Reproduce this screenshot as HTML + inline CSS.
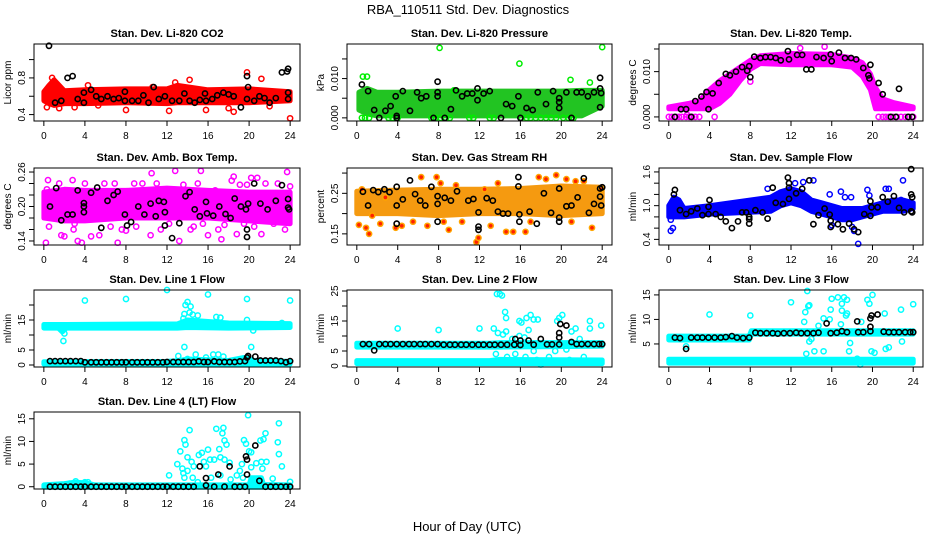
<!DOCTYPE html>
<html><head><meta charset="utf-8">
<style>
html,body{margin:0;padding:0;background:#fff;}
svg{display:block;font-family:"Liberation Sans",Arial,sans-serif;}
</style></head>
<body>
<svg id="chart" width="936" height="540" viewBox="0 0 936 540" xmlns="http://www.w3.org/2000/svg">
<rect x="0" y="0" width="936" height="540" fill="#fff"/>
<text x="468" y="14" font-size="13" text-anchor="middle">RBA_110511  Std. Dev. Diagnostics</text>
<text x="467" y="531" font-size="13" text-anchor="middle">Hour of Day (UTC)</text>
<g id="panels"></g>
</svg>
<script>
// ---------- shared axis data ----------
var xTicks = [0,4,8,12,16,20,24];

// ---------- P1 CO2 ----------
var co2BandHours = [0,0.5,1,2,4,8,12,13,16,20,24];
var co2BandLo = [0.55,0.52,0.5,0.52,0.52,0.53,0.52,0.53,0.53,0.53,0.55];
var co2BandHi = [0.65,0.72,0.78,0.66,0.67,0.68,0.68,0.72,0.67,0.68,0.65];
var co2Points = [[0.3,0.48],[0.8,0.8],[1.5,0.47],[3,0.48],[4.3,0.72],[5.3,0.5],[8,0.45],[12.2,0.44],[12.8,0.75],[14.2,0.78],[15.8,0.45],[18,0.47],[18.5,0.43],[19.8,0.86],[21.2,0.79],[22,0.49],[24,0.36],[10.6,0.7]];
var co2Black = [[0.5,1.15],[1.1,0.53],[1.7,0.55],[2.3,0.8],[2.8,0.82],[3.3,0.57],[3.9,0.64],[3.9,0.53],[4.6,0.67],[5.1,0.6],[5.6,0.57],[6.2,0.6],[6.8,0.57],[7.3,0.58],[7.9,0.65],[7.9,0.55],[8.6,0.55],[9.2,0.55],[9.7,0.61],[10.2,0.53],[10.7,0.7],[11.2,0.57],[11.8,0.6],[12.5,0.55],[13.2,0.55],[13.7,0.63],[14.2,0.55],[14.7,0.53],[15.2,0.56],[15.7,0.63],[15.8,0.55],[16.4,0.57],[16.9,0.61],[17.5,0.64],[18,0.62],[18.5,0.6],[19.2,0.48],[19.8,0.82],[19.9,0.7],[19.8,0.57],[20.5,0.55],[21,0.6],[21.5,0.58],[22,0.53],[22.6,0.58],[23.2,0.86],[23.7,0.87],[23.8,0.9],[23.8,0.64],[23.8,0.57]];

// ---------- P2 Pressure ----------
var presBandHours = [0.2,1,2,4,8,12,16,20,22,24];
var presBandLo = [0.002,0.001,0.0005,0.0005,0.0005,0.0005,0.0005,0.0005,0.0005,0.003];
var presBandHi = [0.0065,0.0075,0.0065,0.0065,0.0068,0.0068,0.0068,0.0068,0.007,0.007];
var presPoints = [[8.1,0.0178],[15.9,0.0138],[24,0.018],[0.6,0.0105],[1,0.0105],[20.9,0.0097],[22.8,0.009],[9.5,0.007],[0.5,0],[0.8,0],[1.2,0],[3.1,0],[3.5,0],[4,0],[7.3,0],[7.7,0],[8.2,0],[8.7,0],[9.1,0],[11,0],[11.4,0],[13,0],[13.4,0],[16.1,0],[16.6,0],[17,0],[17.5,0],[18,0],[18.5,0],[19,0],[19.5,0],[20.2,0],[20.7,0],[21.2,0]];
var presBlack = [[0.5,0.0085],[1.1,0.0068],[1.7,0.002],[2.2,0],[2.8,0.0018],[3.3,0.003],[3.8,0.0055],[3.9,0.0005],[3.9,0],[4.5,0.0068],[5.2,0.0018],[5.9,0.0065],[6.3,0.005],[6.8,0.0055],[7.5,0],[7.9,0.0092],[7.9,0.0065],[7.9,0.0055],[8.6,0],[9.2,0.0022],[9.7,0.007],[10.3,0.0055],[10.8,0.0062],[11.3,0.0062],[11.8,0.0075],[11.8,0.0045],[12.4,0.0062],[13,0.0068],[14.1,0],[14.6,0.0035],[15.2,0.003],[15.8,0.0055],[16,0],[16.6,0.0025],[17.2,0.002],[17.7,0.0065],[18.5,0.0035],[19.2,0.0068],[19.8,0.005],[19.8,0.004],[19.8,0.0025],[20.5,0.0065],[21,0],[21.5,0.0065],[22,0.0065],[22.6,0.0055],[23.2,0.0065],[23.8,0.0102],[23.8,0.0075],[23.9,0.0063],[23.8,0.0027]];

// ---------- P3 Li-820 Temp ----------
var tempBandHours = [0,2,3,4,5,6,7,8,9,12,16,18,19,19.8,20.3,21,22,24];
var tempBandLo = [0.0018,0.0018,0.0018,0.0018,0.003,0.005,0.008,0.0105,0.0118,0.0115,0.0115,0.011,0.009,0.006,0.0018,0.0018,0.0018,0.0018];
var tempBandHi = [0.0022,0.003,0.0035,0.006,0.008,0.0095,0.011,0.0125,0.0135,0.014,0.0138,0.013,0.012,0.0095,0.0065,0.004,0.0032,0.0022];
var tempPoints = [[0,0],[0.3,0],[0.7,0],[1,0],[1.3,0],[1.7,0],[2,0],[2.3,0],[2.6,0],[3,0],[4.5,0],[20.6,0],[21,0],[21.3,0],[21.6,0],[22,0],[22.4,0],[22.8,0],[23.2,0],[23.6,0],[24,0],[1.8,0.0005],[15.3,0.0155],[12.9,0.0152],[8,0.0078],[19.9,0.0065]];
var tempBlack = [[0.6,0],[2.2,0],[1.2,0.0017],[1.7,0.0017],[2.6,0.0035],[3.2,0.0045],[3.7,0.0055],[3.9,0.0017],[4.3,0.0052],[4.9,0.0075],[5.6,0.0095],[6,0.0092],[6.6,0.01],[7.2,0.011],[7.7,0.0102],[7.9,0.0112],[8,0.0088],[8.4,0.0133],[9,0.013],[9.5,0.0132],[10,0.0132],[10.5,0.013],[11,0.0125],[11.7,0.0145],[11.8,0.0127],[12.6,0.0137],[13.1,0.0137],[13.5,0.0105],[14,0.0105],[14.5,0.0132],[15.2,0.013],[15.9,0.0138],[16,0.0123],[16.7,0.0142],[17.3,0.013],[17.9,0.013],[18.4,0.0127],[19.1,0.0108],[19.6,0.0092],[19.7,0.0085],[19.8,0.0115],[20.6,0.0075],[21,0.005],[21.8,0],[22.3,0],[22.6,0.0062],[23.5,0],[23.9,0]];

// ---------- P4 Amb Box Temp ----------
var boxBandHours = [0,2,4,8,12,16,20,24];
var boxBandLo = [0.18,0.175,0.175,0.18,0.18,0.18,0.175,0.17];
var boxBandHi = [0.225,0.23,0.228,0.228,0.232,0.228,0.225,0.225];
var boxPoints = [[0.2,0.137],[0.4,0.246],[0.5,0.165],[1.7,0.15],[2,0.148],[2.8,0.246],[2.9,0.16],[3.3,0.14],[3.7,0.137],[4,0.24],[4.6,0.148],[5.4,0.15],[6.9,0.24],[7.2,0.137],[7.6,0.16],[8,0.158],[9.6,0.24],[10.4,0.15],[10.5,0.258],[11.4,0.16],[12.8,0.262],[13.2,0.14],[14.3,0.16],[15.3,0.262],[15.5,0.17],[16,0.15],[16.7,0.228],[17.3,0.143],[17.6,0.168],[18.3,0.245],[18.5,0.252],[18.8,0.152],[19.1,0.238],[19.8,0.238],[20.2,0.25],[20.8,0.25],[21.2,0.152],[21.6,0.24],[22.4,0.17],[23.5,0.16],[23.7,0.26],[24,0.235],[12.2,0.17],[5.9,0.24],[0.3,0.23],[1.5,0.24],[6.5,0.165],[9,0.165],[11,0.24],[13.6,0.238],[15,0.24],[17,0.16],[20.5,0.165],[22.8,0.24],[3,0.17],[8.8,0.24],[14.6,0.165],[19.5,0.17]];
var boxBlack = [[0.6,0.2],[1.2,0.232],[1.7,0.176],[2.3,0.186],[2.8,0.186],[3.3,0.228],[3.9,0.2],[3.9,0.206],[3.9,0.19],[4.6,0.224],[5.2,0.233],[5.6,0.163],[6.2,0.21],[6.8,0.22],[7.2,0.226],[7.9,0.186],[8.1,0.167],[8.5,0.173],[9.2,0.2],[9.8,0.186],[10.4,0.205],[10.9,0.183],[11.2,0.21],[11.7,0.208],[11.8,0.19],[11.8,0.167],[12.5,0.145],[13.2,0.171],[13.8,0.218],[14.2,0.225],[14.7,0.195],[15.2,0.183],[15.8,0.208],[15.9,0.188],[16.5,0.184],[17.1,0.2],[17.7,0.187],[18.2,0.18],[18.6,0.214],[19.2,0.2],[19.7,0.195],[19.8,0.16],[19.8,0.147],[19.9,0.205],[20.5,0.24],[21.1,0.205],[21.8,0.195],[22.6,0.21],[23.2,0.237],[23.8,0.213],[23.8,0.198],[23.9,0.195]];

// ---------- P5 Gas Stream RH ----------
var rhBandHours = [0,4,8,12,16,20,24];
var rhBandLo = [0.2,0.2,0.195,0.2,0.2,0.195,0.2];
var rhBandHi = [0.255,0.258,0.26,0.26,0.262,0.268,0.265];
var rhPoints = [[0.2,0.172],[0.5,0.26],[0.9,0.165],[1.2,0.15],[1.5,0.195],[2.3,0.175],[3.8,0.165],[4.4,0.17],[6.3,0.29],[6.9,0.17],[7.8,0.29],[8.5,0.18],[9,0.16],[9.7,0.27],[11.7,0.13],[11.9,0.14],[13.1,0.17],[14.6,0.155],[15.3,0.155],[16.5,0.155],[17.8,0.29],[18.5,0.285],[19.5,0.295],[20.5,0.285],[21.4,0.28],[22.2,0.28],[23,0.165],[23.9,0.26],[12.5,0.26],[2.8,0.24],[5.5,0.18],[10.3,0.18],[17,0.18],[21,0.18],[8.2,0.275],[13.8,0.275]];
var rhBlack = [[0.6,0.254],[1.1,0.22],[1.6,0.258],[2.1,0.253],[2.7,0.26],[3.2,0.253],[3.9,0.266],[3.9,0.22],[3.9,0.175],[4.5,0.235],[5.2,0.282],[5.7,0.248],[6.2,0.232],[6.7,0.22],[7.3,0.266],[7.9,0.18],[7.9,0.243],[7.9,0.224],[8.6,0.239],[9.2,0.232],[9.8,0.255],[10.9,0.232],[11.4,0.236],[11.9,0.203],[11.9,0.168],[11.9,0.16],[12.7,0.238],[13.3,0.232],[13.8,0.205],[14.3,0.2],[14.8,0.2],[15.8,0.29],[15.9,0.198],[15.8,0.267],[15.9,0.18],[16.9,0.205],[17.6,0.175],[18.3,0.25],[19,0.202],[19.8,0.262],[19.8,0.19],[19.8,0.18],[20.5,0.218],[21,0.22],[21.6,0.24],[22.2,0.287],[22.7,0.202],[23.2,0.224],[23.8,0.262],[23.8,0.242],[23.9,0.22],[24,0.265]];

// ---------- P6 Sample Flow ----------
var sfBandHours = [0,0.5,1,1.5,4,10,11,12,13,14,15,16,17,18,19,20,21,22,23,24];
var sfBandLo = [0.8,0.8,0.8,0.8,0.85,0.9,1.0,1.05,1.0,0.9,0.85,0.8,0.75,0.75,0.8,0.85,0.9,0.9,0.9,0.95];
var sfBandHi = [1.0,1.15,1.1,0.95,1.0,1.15,1.25,1.3,1.25,1.1,1.05,1.0,0.95,0.95,0.95,1.0,1.05,1.1,1.1,1.05];
var sfPoints = [[0.1,1.0],[0.2,0.75],[0.2,0.55],[0.4,0.6],[9.7,1.3],[12.4,1.4],[13.2,1.42],[14.2,1.45],[15.8,1.2],[16.9,1.25],[17.9,1.15],[18.6,0.32],[18.2,0.55],[19.5,1.28],[19.7,1.18],[21.3,1.3],[21.6,1.3],[23,1.45],[22.8,1.1],[17.3,1.15],[16,0.65],[18,0.62]];
var sfBlack = [[0.6,1.28],[0.5,1.2],[1.1,0.92],[1.7,0.85],[2.2,0.9],[2.8,0.95],[3.3,0.83],[3.9,0.85],[3.9,0.98],[4,1.1],[4.6,0.85],[5.1,0.8],[5.6,0.72],[6.2,0.6],[6.8,0.72],[7.2,0.88],[7.6,0.88],[7.9,0.8],[7.9,0.68],[7.9,0.76],[8.5,0.92],[9.2,0.88],[9.7,0.77],[10.2,1.32],[10.5,1.05],[11.2,1.03],[11.7,1.5],[11.8,1.4],[11.8,1.32],[11.8,1.12],[12.5,1.22],[13.1,1.3],[13.8,1.45],[14.2,0.67],[14.7,0.83],[15.3,0.95],[15.8,0.84],[15.9,0.73],[15.9,0.62],[16.6,0.67],[17.1,0.58],[17.7,0.68],[18.2,0.58],[18.6,0.53],[19.2,0.85],[19.8,0.82],[19.8,1.08],[19.9,0.97],[20.5,0.97],[21,1.15],[21.5,1.07],[22.1,1.17],[22.6,0.96],[23.1,0.88],[23.8,1.65],[23.8,1.2],[23.9,1.15],[23.8,0.9],[23.9,0.88]];

// ---------- P7 Line 1 Flow ----------
var l1UpperHours = [0,1.4,1.8,2.2,13,14,18,24];
var l1UpperLo = [12.3,12.3,11,12.3,12.3,12.5,12.3,12.5];
var l1UpperHi = [13.5,13.5,13.5,13.5,13.7,15,14,13.8];
var l1LowerHours = [0,12,13.3,14,18,19.5,20.5,24];
var l1LowerLo = [0.3,0.3,0.3,0.3,0.3,0.3,0.3,0.3];
var l1LowerHi = [1.1,1.2,1.5,2,1.5,2.5,1.5,1.2];
var l1Points = [[4,21.5],[8,22],[12,25],[16,23.5],[19.8,22],[24,21.5],[13.8,20],[14,21],[14.3,19.5],[13.7,17],[14.2,17.5],[15,16.5],[16.8,16],[17.2,15.8],[1.9,8],[2,10.5],[13.7,6],[20.2,6],[13.1,3],[14,2],[14.8,3.5],[16.5,3.5],[17,3.5],[17.5,2.8],[19.8,15],[20.4,11.5],[23.2,14],[15.8,2.5],[14.5,16.8],[13.6,15.5]];
var l1Black = [[0.6,1.3],[1.1,1.3],[1.6,1.3],[2.1,1.3],[2.6,1.3],[3.1,1.3],[3.6,1.3],[4.0,0.9],[4.6,0.9],[5.1,0.9],[5.6,0.9],[6.1,0.9],[6.6,0.9],[7.1,0.9],[7.6,0.9],[8.0,0.9],[8.6,0.9],[9.1,0.9],[9.6,0.9],[10.1,0.9],[10.6,0.9],[11.1,0.9],[11.6,0.9],[12.0,1.0],[12.6,1.0],[13.1,1.0],[13.6,1.0],[14.1,1.0],[14.6,1.0],[15.1,1.2],[15.6,1.0],[16.0,1.0],[16.6,1.2],[17.1,1.0],[17.6,1.0],[18.1,1.0],[18.6,1.0],[19.1,1.2],[19.6,1.3],[19.8,2.5],[19.9,3.0],[20.6,2.8],[21.1,1.5],[21.6,1.5],[22.1,1.5],[22.6,1.5],[23.1,1.3],[23.6,0.9],[24.0,1.3]];

// ---------- P8 Line 2 Flow ----------
var l2UpperHours = [0,13,14,24];
var l2UpperLo = [6.3,6.3,6.3,6.6];
var l2UpperHi = [7.6,7.6,7.8,7.8];
var l2LowerHours = [0,13,14,24];
var l2LowerLo = [0.8,0.8,0.8,0.8];
var l2LowerHi = [1.8,1.8,2.2,2];
var l2Points = [[4,12.5],[8,12],[12,12.5],[13.7,24],[14,24],[14.2,23.5],[14.5,18],[14.6,16],[13.4,12.5],[13.8,11],[14.3,10.5],[14.6,11.5],[15.9,15],[16.1,14.5],[16.6,16],[17,17],[17.3,15.5],[17.7,15.5],[16.8,12],[19.8,16],[20.1,17],[19.6,15],[21,11.5],[21.4,12.5],[22.8,12.5],[22.8,15],[23.9,13.5],[15.2,9],[15.9,10],[16.4,9.5],[19.4,5],[20.5,5.5],[17.6,2],[18,0.5],[14.7,3],[13.6,4],[20.8,2],[22.2,3],[20.9,7.5],[17.3,5],[15.5,4],[16.5,3],[18.8,3],[21.8,9]];
var l2Black = [[0.6,7.3],[1.2,7.3],[1.7,5.2],[2.2,7.3],[2.8,7.3],[3.3,7.3],[3.9,7.3],[4.5,7.3],[5.1,7.3],[5.6,7.3],[6.2,7.3],[6.7,7.3],[7.3,7.3],[7.9,7.3],[8.5,7.1],[9.1,7.1],[9.6,7.1],[10.2,7.1],[10.7,7.1],[11.3,7.1],[11.9,7.1],[12.4,7.1],[13,7.1],[13.5,7.1],[14.1,7.1],[14.7,7.1],[15.4,7.1],[15.5,9],[16,7],[16,8.5],[16.8,8.5],[17.3,7.1],[18,9],[18.6,7.2],[19.1,7.2],[19.8,9.5],[19.8,11],[19.9,14],[19.8,7.2],[20.5,13.5],[21,8],[21.5,7.3],[22,7.3],[22.6,7.3],[23.2,7.3],[23.7,7.3],[24,7.3]];

// ---------- P9 Line 3 Flow ----------
var l3UpperHours = [0,7.9,8.1,24];
var l3UpperLo = [5.8,5.8,7,7];
var l3UpperHi = [6.6,6.6,7.7,7.7];
var l3LowerHours = [0,24];
var l3LowerLo = [1.1,1.1];
var l3LowerHi = [1.9,1.9];
var l3Points = [[4,11],[8,10.8],[12,13.5],[13.6,15.8],[13.7,12.7],[13.8,12.9],[13.4,11.5],[13.3,9.5],[13.8,5.5],[14,6],[13.5,3],[14.3,3.5],[15.2,3.5],[16,14.2],[15.9,12],[16.6,14.5],[17,13.2],[17.2,14.5],[17.5,14],[17,11.8],[17.5,11.2],[17.4,10.8],[16.9,9],[17.8,5.2],[17.7,3.5],[18.5,2],[18.8,0.8],[19.5,14],[19.7,13.2],[20,15],[19.9,3.5],[20.2,3.2],[21.2,11.2],[21.3,4],[21.6,4.3],[22.8,12],[22.9,5.5],[24,13.1],[15.8,10],[15.2,10.2],[14.7,8.7],[18.9,9.5],[1.7,4.5]];
var l3Black = [[0.6,6.3],[1.1,6.2],[1.7,4.0],[2.2,6.3],[2.8,6.3],[3.3,6.3],[3.9,6.3],[4.5,6.3],[5.1,6.3],[5.6,6.4],[6.2,6.6],[6.7,6.3],[7.3,6.2],[7.9,6.3],[8.5,7.3],[9.0,7.2],[9.6,7.2],[10.2,7.2],[10.7,7.1],[11.3,7.2],[11.9,7.2],[12.5,7.3],[13,7.2],[13.6,7.2],[14.2,7.2],[14.7,7.3],[15.5,9.2],[15.9,7.2],[16.5,7.3],[17,7.6],[17.5,7.4],[18.5,9.6],[18.6,7.4],[19.1,7.4],[19.8,8.5],[19.8,10.2],[19.9,10.8],[19.8,7.6],[20.5,11],[21.1,7.5],[21.6,7.4],[22.1,7.4],[22.6,7.4],[23.2,7.4],[23.7,7.4],[24,7.4]];

// ---------- P10 Line 4 (LT) Flow ----------
var l4BandHours = [0,2,3,4,5,20,20.2,21.2,21.4,24];
var l4BandLo = [-0.1,-0.1,-0.1,-0.1,-0.1,-0.1,-0.1,-0.1,-0.1,-0.1];
var l4BandHi = [0.4,0.7,1,0.9,0.4,0.4,2,2,0.5,0.4];
var l4Points = [[12.2,2.5],[13,5],[13.3,7.8],[13.5,4],[13.7,2],[13.7,10.3],[13.8,9.3],[14,6.5],[14.2,12.5],[14.4,5.5],[14.6,4.5],[14.5,2],[15.1,7],[15.4,7.5],[15.6,5.5],[15.8,4.5],[16,8.2],[16.2,6],[16.6,6],[16.8,12.8],[17.1,8.3],[17.2,6.5],[17.5,13],[17.4,11.8],[17.6,10.2],[17.8,9.3],[17.6,6],[17.2,2.5],[18.1,5.3],[18.2,1.6],[18.8,2.5],[19.1,3.5],[19.3,5],[19.5,10.3],[19.7,9.5],[19.9,15.8],[20,7.8],[20.2,7.6],[20.2,4.3],[20.7,5.2],[21.1,10.2],[21.4,10.5],[21.2,5.5],[21.6,11.8],[21.3,4],[21.7,5.5],[22.3,1.8],[22.9,14],[22.8,9.8],[22.9,7.2],[23.2,4.5],[24,1.1],[3.1,1.2],[4,1],[4.3,1],[2.5,0.7],[16.3,2],[15,1],[13.6,3],[14,3.5],[19.4,2]];
var l4Black = [[0.6,0],[1.1,0],[1.6,0],[2.1,0],[2.6,0],[3.1,0],[3.6,0],[4.0,0],[4.6,0],[5.1,0],[5.6,0],[6.1,0],[6.6,0],[7.1,0],[7.6,0],[8.0,0],[8.6,0],[9.1,0],[9.6,0],[10.1,0],[10.6,0],[11.1,0],[11.6,0],[12.0,0],[12.6,0],[13.1,0],[13.6,0],[14.1,0],[14.6,0],[15.2,4.5],[15.8,1.9],[15.8,0.3],[16.6,0],[17,2.7],[17.6,0],[18.1,4.5],[18.6,0],[19.1,0],[19.6,0],[19.7,6.7],[19.8,6],[19.8,2.7],[20.6,9.1],[21,1.3],[21.6,0],[22.1,0],[22.6,0],[23.1,0],[23.6,0],[24,0]];

// ---------- axis tick data ----------
var co2YTicks = [0.4,0.6,0.8,1.0];      var co2YLabels = ["0.4","","0.8",""];
var presYTicks = [0,0.005,0.01,0.015];  var presYLabels = ["0.000","","0.010",""];
var tempYTicks = [0,0.005,0.01,0.015];  var tempYLabels = ["0.000","","0.010",""];
var boxYTicks = [0.14,0.16,0.18,0.2,0.22,0.24,0.26]; var boxYLabels = ["0.14","","","0.20","","","0.26"];
var rhYTicks = [0.15,0.2,0.25,0.3];     var rhYLabels = ["0.15","","0.25",""];
var sfYTicks = [0.4,0.6,0.8,1.0,1.2,1.4,1.6]; var sfYLabels = ["0.4","","","1.0","","","1.6"];
var l1YTicks = [0,5,10,15,20];          var l1YLabels = ["0","5","","15",""];
var l2YTicks = [0,5,10,15,20,25];       var l2YLabels = ["0","5","","15","","25"];
var l3YTicks = [5,10,15];               var l3YLabels = ["5","10","15"];
var l4YTicks = [0,5,10,15];             var l4YLabels = ["0","5","10","15"];

var NS = "http://www.w3.org/2000/svg";
var root = document.getElementById("panels");
function mk(tag, parent){ var e = document.createElementNS(NS, tag); parent.appendChild(e); return e; }

var colX = [34,347,659], colW = [266,265,264];
var rowY = [44,168,290,412], rowH = 77;

var panels = [
 {name:"co2",title:"Stan. Dev. Li-820 CO2",ylab:"Licor ppm",c:0,r:0,ymin:0.33,ymax:1.17,yt:co2YTicks,yl:co2YLabels,col:"#ff0000",fill:"#ff0000",bands:[[co2BandHours,co2BandLo,co2BandHi]],pts:co2Points,blk:co2Black},
 {name:"pressure",title:"Stan. Dev. Li-820 Pressure",ylab:"kPa",c:1,r:0,ymin:-0.0008,ymax:0.0188,yt:presYTicks,yl:presYLabels,col:"#00ee00",fill:"#22c422",bands:[[presBandHours,presBandLo,presBandHi]],pts:presPoints,blk:presBlack},
 {name:"li820-temp",title:"Stan. Dev. Li-820 Temp.",ylab:"degrees C",c:2,r:0,ymin:-0.0009,ymax:0.0161,yt:tempYTicks,yl:tempYLabels,col:"#ff00ff",fill:"#ff00ff",bands:[[tempBandHours,tempBandLo,tempBandHi]],pts:tempPoints,blk:tempBlack},
 {name:"amb-box-temp",title:"Stan. Dev. Amb. Box Temp.",ylab:"degrees C",c:0,r:1,ymin:0.133,ymax:0.267,yt:boxYTicks,yl:boxYLabels,col:"#ff00ff",fill:"#ff00ff",bands:[[boxBandHours,boxBandLo,boxBandHi]],pts:boxPoints,blk:boxBlack},
 {name:"gas-stream-rh",title:"Stan. Dev. Gas Stream RH",ylab:"percent",c:1,r:1,ymin:0.1225,ymax:0.3125,yt:rhYTicks,yl:rhYLabels,col:"#ffa500",fill:"#f59a10",bands:[[rhBandHours,rhBandLo,rhBandHi]],pts:rhPoints,blk:rhBlack},
 {name:"sample-flow",title:"Stan. Dev. Sample Flow",ylab:"ml/min",c:2,r:1,ymin:0.3,ymax:1.67,yt:sfYTicks,yl:sfYLabels,col:"#0000ff",fill:"#0000ff",bands:[[sfBandHours,sfBandLo,sfBandHi]],pts:sfPoints,blk:sfBlack},
 {name:"line1-flow",title:"Stan. Dev. Line 1 Flow",ylab:"ml/min",c:0,r:2,ymin:-0.67,ymax:25,yt:l1YTicks,yl:l1YLabels,col:"#00ffff",fill:"#00ffff",bands:[[l1UpperHours,l1UpperLo,l1UpperHi],[l1LowerHours,l1LowerLo,l1LowerHi]],pts:l1Points,blk:l1Black},
 {name:"line2-flow",title:"Stan. Dev. Line 2 Flow",ylab:"ml/min",c:1,r:2,ymin:-0.33,ymax:25.33,yt:l2YTicks,yl:l2YLabels,col:"#00ffff",fill:"#00ffff",bands:[[l2UpperHours,l2UpperLo,l2UpperHi],[l2LowerHours,l2LowerLo,l2LowerHi]],pts:l2Points,blk:l2Black},
 {name:"line3-flow",title:"Stan. Dev. Line 3 Flow",ylab:"ml/min",c:2,r:2,ymin:0.3,ymax:16,yt:l3YTicks,yl:l3YLabels,col:"#00ffff",fill:"#00ffff",bands:[[l3UpperHours,l3UpperLo,l3UpperHi],[l3LowerHours,l3LowerLo,l3LowerHi]],pts:l3Points,blk:l3Black},
 {name:"line4-flow",title:"Stan. Dev. Line 4 (LT) Flow",ylab:"ml/min",c:0,r:3,ymin:-0.5,ymax:16.5,yt:l4YTicks,yl:l4YLabels,col:"#00ffff",fill:"#00ffff",bands:[[l4BandHours,l4BandLo,l4BandHi]],pts:l4Points,blk:l4Black}
];

panels.forEach(function(p){
  var x0 = colX[p.c], w = colW[p.c], y0 = rowY[p.r], h = rowH;
  function sx(v){ return x0 + (v + 0.96) / 25.92 * w; }
  function sy(v){ return y0 + (p.ymax - v) / (p.ymax - p.ymin) * h; }
  var g = mk("g", root);
  
  

  var t = mk("text", g);
  
  
  t.setAttribute("x", x0 + w/2); t.setAttribute("y", y0 - 7);
  t.setAttribute("font-size", "11"); t.setAttribute("font-weight", "bold");
  t.setAttribute("text-anchor", "middle"); t.textContent = p.title;

  var clip = mk("g", g);
  
  

  p.bands.forEach(function(b){
    var hrs = b[0], lo = b[1], hi = b[2], pts = [];
    for (var i=0;i<hrs.length;i++) pts.push(sx(hrs[i]).toFixed(1)+","+sy(hi[i]).toFixed(1));
    for (var j=hrs.length-1;j>=0;j--) pts.push(sx(hrs[j]).toFixed(1)+","+sy(lo[j]).toFixed(1));
    var poly = mk("polygon", clip);
    
    
    poly.setAttribute("points", pts.join(" "));
    poly.setAttribute("fill", p.fill); poly.setAttribute("stroke", p.fill);
    poly.setAttribute("stroke-width", "5"); poly.setAttribute("stroke-linejoin", "round");
  });
  p.pts.forEach(function(d){
    var c = mk("circle", clip);
    
    
    c.setAttribute("cx", sx(d[0]).toFixed(1)); c.setAttribute("cy", sy(d[1]).toFixed(1));
    c.setAttribute("r", "2.6"); c.setAttribute("fill", p.name==="gas-stream-rh" ? "#ff2000" : "none");
    c.setAttribute("stroke", p.col); c.setAttribute("stroke-width", "1.5");
  });
  p.blk.forEach(function(d){
    var c = mk("circle", clip);
    
    
    c.setAttribute("cx", sx(d[0]).toFixed(1)); c.setAttribute("cy", sy(d[1]).toFixed(1));
    c.setAttribute("r", "2.6"); c.setAttribute("fill", "none");
    c.setAttribute("stroke", "#000"); c.setAttribute("stroke-width", "1.6");
  });

  var box = mk("rect", g);
  
  
  box.setAttribute("x", x0); box.setAttribute("y", y0); box.setAttribute("width", w); box.setAttribute("height", h);
  box.setAttribute("fill", "none"); box.setAttribute("stroke", "#000"); box.setAttribute("stroke-width", "1");

  var xa = mk("g", g);
  
  
  var xl = mk("line", xa);
  xl.setAttribute("x1", sx(0)); xl.setAttribute("x2", sx(24)); xl.setAttribute("y1", y0+h); xl.setAttribute("y2", y0+h); xl.setAttribute("stroke", "#000");
  xTicks.forEach(function(v){
    var tk = mk("line", xa);
    tk.setAttribute("x1", sx(v)); tk.setAttribute("x2", sx(v)); tk.setAttribute("y1", y0+h); tk.setAttribute("y2", y0+h+5); tk.setAttribute("stroke", "#000");
    var tl = mk("text", xa);
    
    
    tl.setAttribute("x", sx(v)); tl.setAttribute("y", y0+h+18); tl.setAttribute("font-size", "10");
    tl.setAttribute("text-anchor", "middle"); tl.textContent = v;
  });

  var ya = mk("g", g);
  
  
  var yl = mk("line", ya);
  yl.setAttribute("x1", x0); yl.setAttribute("x2", x0); yl.setAttribute("y1", sy(p.yt[0])); yl.setAttribute("y2", sy(p.yt[p.yt.length-1])); yl.setAttribute("stroke", "#000");
  p.yt.forEach(function(v, i){
    var tk = mk("line", ya);
    tk.setAttribute("x1", x0-5); tk.setAttribute("x2", x0); tk.setAttribute("y1", sy(v)); tk.setAttribute("y2", sy(v)); tk.setAttribute("stroke", "#000");
    if (p.yl[i]) {
      var tl = mk("text", ya);
      
      
      var tx = x0 - 9, ty = sy(v);
      tl.setAttribute("x", tx); tl.setAttribute("y", ty); tl.setAttribute("font-size", "10");
      tl.setAttribute("text-anchor", "middle");
      tl.setAttribute("transform", "rotate(-90 " + tx + " " + ty + ")");
      tl.textContent = p.yl[i];
    }
  });
  var yt = mk("text", ya);
  
  
  var lx = x0 - 23, ly = y0 + h/2;
  yt.setAttribute("x", lx); yt.setAttribute("y", ly); yt.setAttribute("font-size", "10");
  yt.setAttribute("text-anchor", "middle");
  yt.setAttribute("transform", "rotate(-90 " + lx + " " + ly + ")");
  yt.textContent = p.ylab;
});
</script>
</body></html>
